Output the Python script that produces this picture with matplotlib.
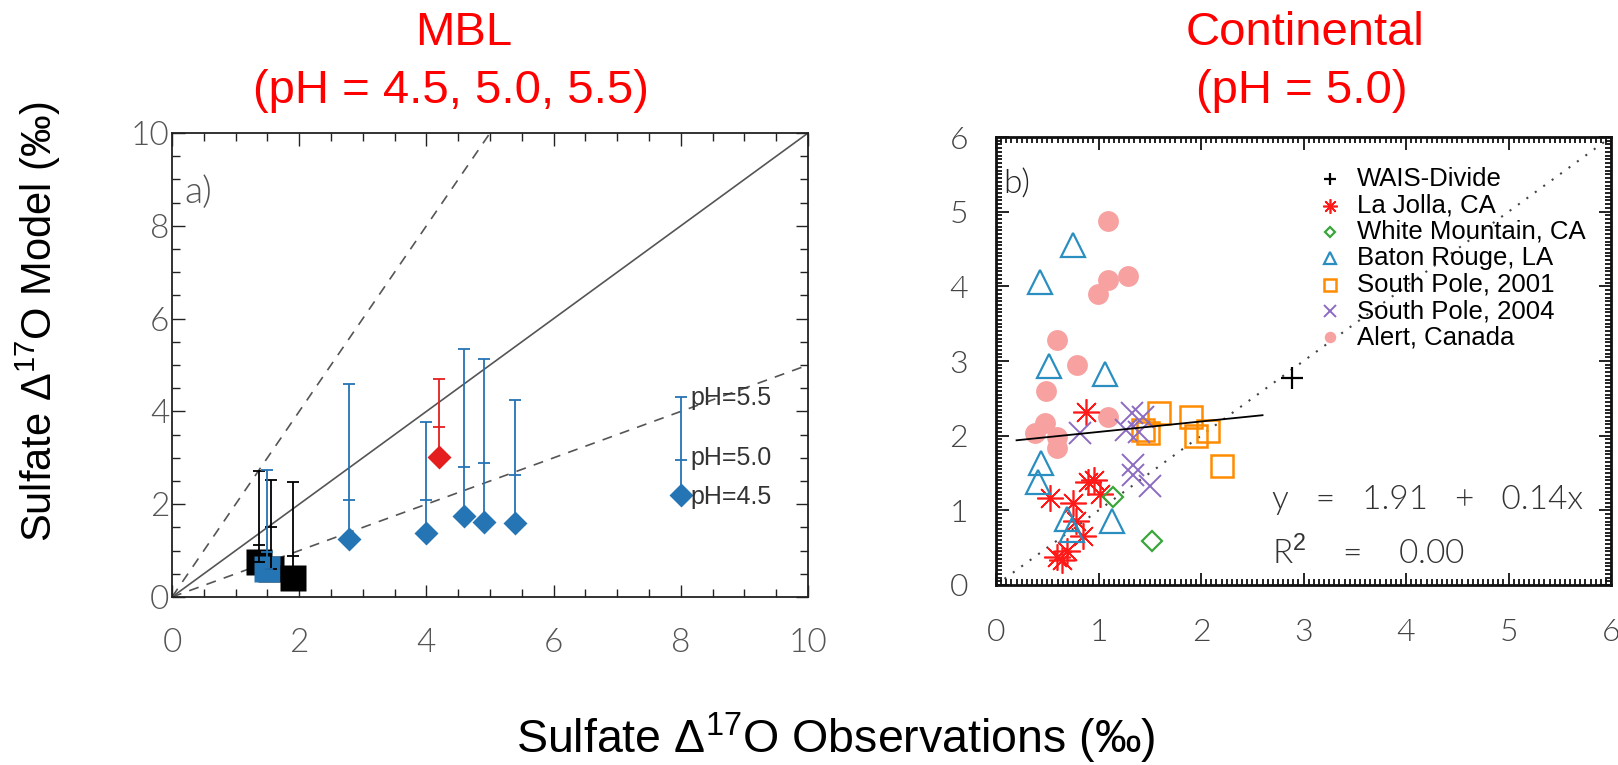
import numpy as np
import matplotlib.pyplot as plt
from matplotlib.ticker import MultipleLocator

plt.rcParams['font.family'] = ['Liberation Sans', 'DejaVu Sans']
plt.rcParams['mathtext.fontset'] = 'custom'
plt.rcParams['mathtext.rm'] = 'Liberation Sans'

# ---- panel a: MBL sites, modelled at pH 4.5 (marker), 5.0 (mid tick), 5.5 (cap)
mbl_obs = [2.79, 4.00, 4.59, 4.90, 5.39, 8.00]
mbl_ph45 = [1.26, 1.37, 1.75, 1.62, 1.59, 2.20]
mbl_ph50 = [2.08, 2.08, 2.81, 2.88, 2.63, 2.95]
mbl_ph55 = [4.60, 3.78, 5.34, 5.13, 4.25, 4.30]

red_obs = [4.20]
red_ph45 = [3.02]
red_ph50 = [3.66]
red_ph55 = [4.69]

sq_obs = [1.56, 1.37, 1.50, 1.90]
sq_ph45 = [0.60, 0.76, 0.60, 0.42]
sq_ph50 = [1.50, 1.12, 0.96, 0.88]
sq_ph55 = [2.52, 2.72, 2.74, 2.48]
sq_colors = ['black', 'black', '#2574b4', 'black']

ref_slopes = [2.0, 1.0, 0.5]
ref_styles = [(0, (6, 5)), '-', (0, (6, 5))]
ph_labels = ['pH=5.5', 'pH=5.0', 'pH=4.5']
ph_label_y = [4.29, 3.0, 2.16]

# ---- panel b: continental sites
wais_x = [2.885]
wais_y = [2.77]
lajolla_x = [0.88, 0.53, 0.90, 0.96, 1.01, 0.75, 0.78, 0.85, 0.59, 0.69, 0.64]
lajolla_y = [2.32, 1.17, 1.38, 1.40, 1.22, 1.10, 0.86, 0.66, 0.38, 0.45, 0.33]
whitemtn_x = [1.14, 1.52]
whitemtn_y = [1.18, 0.59]
baton_x = [0.75, 0.43, 0.52, 1.06, 0.44, 0.41, 0.69, 0.74, 1.13]
baton_y = [4.55, 4.06, 2.93, 2.83, 1.63, 1.38, 0.88, 0.73, 0.86]
sp01_x = [1.59, 1.90, 1.43, 1.48, 1.95, 2.07, 2.20]
sp01_y = [2.30, 2.25, 2.07, 2.03, 1.99, 2.06, 1.60]
sp04_x = [0.82, 1.33, 1.43, 1.27, 1.39, 1.34, 1.34, 1.50]
sp04_y = [2.04, 2.30, 2.25, 2.08, 2.05, 1.61, 1.47, 1.33]
alert_x = [1.09, 0.99, 1.09, 1.29, 0.59, 0.79, 0.49, 1.09, 0.48, 0.38, 0.59, 0.59]
alert_y = [4.87, 3.90, 4.08, 4.14, 3.28, 2.95, 2.60, 2.25, 2.17, 2.04, 1.98, 1.84]
site_names = ['WAIS-Divide', 'La Jolla, CA', 'White Mountain, CA', 'Baton Rouge, LA',
              'South Pole, 2001', 'South Pole, 2004', 'Alert, Canada']
fit_a, fit_b, fit_r2 = 1.91, 0.14, 0.00
fit_range = [0.2, 2.6]

fig = plt.figure(figsize=(16.18, 7.65), dpi=100)
idl_font = dict(family=['Lato', 'DejaVu Sans'], weight=300)

# ================= panel a =================
ax1 = fig.add_axes([0.1063, 0.2196, 0.3931, 0.6065])
ax1.set_xlim(0, 10)
ax1.set_ylim(0, 10)
xx = np.array([0, 10])
for s, ls in zip(ref_slopes, ref_styles):
    ax1.plot(xx, s * xx, color='#555555', lw=1.2, ls=ls, zorder=1)

blue = '#2574b4'
ax1.plot(mbl_obs, mbl_ph45, ls='none', marker='D', ms=12, color=blue,
         mec='none', zorder=3)
ax1.errorbar(mbl_obs, mbl_ph45,
             yerr=[np.zeros(len(mbl_obs)), np.subtract(mbl_ph55, mbl_ph45)],
             fmt='none', ecolor=blue, elinewidth=1.3, capsize=4, capthick=1.3, zorder=2)
ax1.plot(mbl_obs, mbl_ph50, ls='none', marker='_', ms=8, mew=1.3, color=blue, zorder=2)

ax1.plot(red_obs, red_ph45, ls='none', marker='D', ms=12, color='#e41e1e',
         mec='none', zorder=3)
ax1.errorbar(red_obs, red_ph45,
             yerr=[[0], np.subtract(red_ph55, red_ph45)],
             fmt='none', ecolor='#e41e1e', elinewidth=1.3, capsize=4, capthick=1.3, zorder=2)
ax1.plot(red_obs, red_ph50, ls='none', marker='_', ms=8, mew=1.3, color='#e41e1e', zorder=2)

for i in range(len(sq_obs)):
    c = sq_colors[i]
    ax1.plot(sq_obs[i], sq_ph45[i], ls='none', marker='s', ms=19, color=c,
             mec='none', zorder=3 + i * 0.1)
    ax1.errorbar(sq_obs[i], sq_ph45[i], yerr=[[0], [sq_ph55[i] - sq_ph45[i]]],
                 fmt='none', ecolor=c, elinewidth=1.3, capsize=4, capthick=1.3, zorder=4)
    ax1.plot(sq_obs[i], sq_ph50[i], ls='none', marker='_', ms=8, mew=1.3, color=c, zorder=4)

for lab, yv in zip(ph_labels, ph_label_y):
    ax1.text(8.15, yv, lab, fontsize=18, color='#333333', va='center', ha='left')

ax1.text(0.2, 8.7, 'a)', fontsize=27, color='#555555', va='center', ha='left',
         **idl_font)

ax1.xaxis.set_major_locator(MultipleLocator(2))
ax1.xaxis.set_minor_locator(MultipleLocator(0.5))
ax1.yaxis.set_major_locator(MultipleLocator(2))
ax1.yaxis.set_minor_locator(MultipleLocator(0.5))
ax1.tick_params(which='both', direction='in', top=True, right=True, width=1,
                colors='#222222', labelcolor='#555555')
ax1.tick_params(which='major', length=9)
ax1.tick_params(which='minor', length=6)
ax1.tick_params(axis='x', pad=22)
ax1.tick_params(axis='y', pad=2)
for lab in ax1.get_xticklabels() + ax1.get_yticklabels():
    lab.set_fontsize(24)
    lab.set_fontfamily(idl_font['family'])
    lab.set_fontweight(idl_font['weight'])
for sp in ax1.spines.values():
    sp.set_linewidth(1.3)
    sp.set_color('#222222')

# ================= panel b =================
ax2 = fig.add_axes([0.6156, 0.2353, 0.3801, 0.5856])
ax2.set_xlim(0, 6)
ax2.set_ylim(0, 6)
ax2.plot([0, 6], [0, 6], color='#444444', lw=1.5, ls=(0, (1, 4)), zorder=1)

styles = [
    dict(marker='+', ms=16, mew=1.6, color='black'),
    dict(marker=(8, 2, 0), ms=19, mew=1.2, color='#ff1a1a'),
    dict(marker='D', ms=10, mew=1.6, mfc='none', color='#3aa63a'),
    dict(marker='^', ms=17, mew=1.6, mfc='none', color='#2a8fc0'),
    dict(marker='s', ms=16, mew=1.8, mfc='none', color='#ff8c00'),
    dict(marker='x', ms=16, mew=1.4, color='#8c6bc2'),
    dict(marker='o', ms=15, mec='none', color='#f7a1a1'),
]
site_x = [wais_x, lajolla_x, whitemtn_x, baton_x, sp01_x, sp04_x, alert_x]
site_y = [wais_y, lajolla_y, whitemtn_y, baton_y, sp01_y, sp04_y, alert_y]
for i, (sx, sy, st) in enumerate(zip(site_x, site_y, styles)):
    z = 1.5 if i == 6 else 2
    ax2.plot(sx, sy, ls='none', zorder=z, **st)

fx = np.array(fit_range)
ax2.plot(fx, fit_a + fit_b * fx, color='black', lw=1.3, zorder=4)

# key in the upper right, small markers next to the site names
for i, (name, st) in enumerate(zip(site_names, styles)):
    yk = 0.906 - i * 0.0589
    small = dict(st)
    small['ms'] = st['ms'] * 0.55
    ax2.plot([0.543], [yk], ls='none', transform=ax2.transAxes, zorder=5, **small)
    ax2.text(0.587, yk, name, fontsize=18.5, color='black', va='center', ha='left',
             transform=ax2.transAxes)

ax2.text(2.69, 1.14, 'y   =   %.2f   +   %.2fx' % (fit_a, fit_b), fontsize=24,
         color='#333333', va='center', ha='left', **idl_font)
ax2.text(2.69, 0.43, r'R$^2$    =    %.2f' % fit_r2, fontsize=24,
         color='#333333', va='center', ha='left', **idl_font)
ax2.text(0.07, 5.37, 'b)', fontsize=24, color='#222222', va='center', ha='left',
         **idl_font)

ax2.xaxis.set_major_locator(MultipleLocator(1))
ax2.xaxis.set_minor_locator(MultipleLocator(0.05))
ax2.yaxis.set_major_locator(MultipleLocator(1))
ax2.yaxis.set_minor_locator(MultipleLocator(0.05))
ax2.tick_params(which='both', direction='in', top=True, right=True, width=1.3,
                colors='#111111', labelcolor='#444444')
ax2.tick_params(which='major', length=9)
ax2.tick_params(which='minor', length=4)
ax2.tick_params(axis='x', pad=24)
ax2.tick_params(axis='y', pad=20)
for lab in ax2.get_xticklabels() + ax2.get_yticklabels():
    lab.set_fontsize(23)
    lab.set_fontfamily(idl_font['family'])
    lab.set_fontweight(idl_font['weight'])
for sp in ax2.spines.values():
    sp.set_linewidth(2)
    sp.set_color('#111111')

# ---- titles and shared axis labels
red = '#ff0000'
fig.text(0.2868, 0.957, 'MBL', fontsize=34, color=red, ha='center', va='center')
fig.text(0.2787, 0.881, '(pH = 4.5, 5.0, 5.5)', fontsize=34, color=red,
         ha='center', va='center')
fig.text(0.8066, 0.957, 'Continental', fontsize=34, color=red, ha='center', va='center')
fig.text(0.8047, 0.881, '(pH = 5.0)', fontsize=34, color=red, ha='center', va='center')
fig.text(0.0235, 0.58, r'Sulfate $\Delta^{17}$O Model (‰)', fontsize=30,
         rotation=90, ha='center', va='center')
fig.text(0.5167, 0.035, r'Sulfate $\Delta^{17}$O Observations (‰)', fontsize=33.5,
         ha='center', va='center')

fig.savefig('out.png', dpi=100)
